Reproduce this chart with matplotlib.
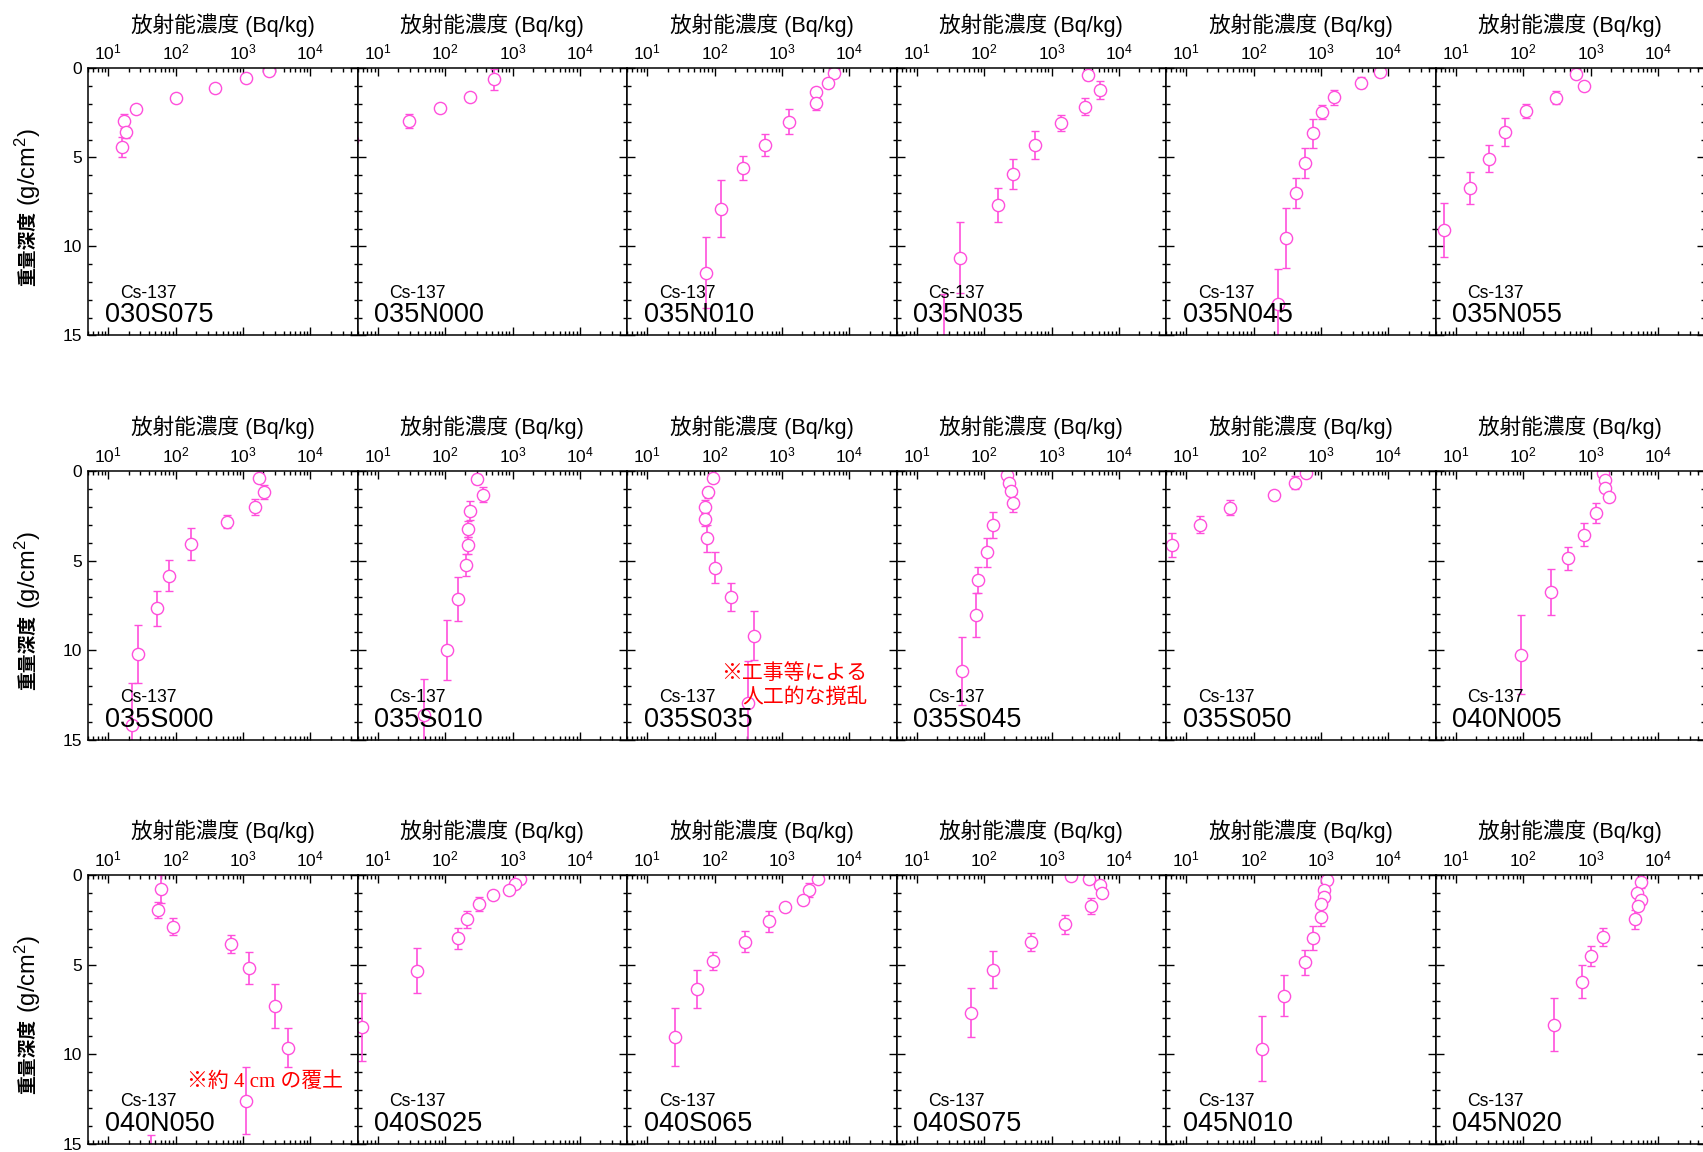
import matplotlib
matplotlib.use("Agg")
import matplotlib.pyplot as plt
from matplotlib.ticker import LogLocator, MultipleLocator, NullFormatter

plt.rcParams['font.family'] = ['Liberation Sans', 'Noto Sans CJK JP', 'DejaVu Sans']
plt.rcParams['mathtext.default'] = 'regular'

# ---------------- data ----------------
stations = ["030S075", "035N000", "035N010", "035N035", "035N045", "035N055",
            "035S000", "035S010", "035S035", "035S045", "035S050", "040N005",
            "040N050", "040S025", "040S065", "040S075", "045N010", "045N020"]

conc_030S075 = [2440, 1100, 380, 100, 25.5, 17, 18.5, 16]
depth_030S075 = [0.13, 0.53, 1.09, 1.69, 2.29, 2.96, 3.6, 4.41]
err_030S075 = [0.1, 0.1, 0.1, 0.1, 0.15, 0.37, 0.3, 0.55]

conc_035N000 = [530, 235, 84, 29.5, 4.2]
depth_035N000 = [0.62, 1.59, 2.25, 2.96, 4.03]
err_035N000 = [0.58, 0.1, 0.1, 0.37, 0.1]

conc_035N010 = [5940, 4890, 3160, 3160, 1265, 567, 260, 124, 75.5]
depth_035N010 = [0.28, 0.81, 1.31, 1.93, 3.0, 4.31, 5.59, 7.88, 11.48]
err_035N010 = [0.1, 0.1, 0.2, 0.42, 0.69, 0.62, 0.66, 1.62, 2.0]

conc_035N035 = [3510, 5175, 3160, 1370, 567, 269, 159, 44, 25.7]
depth_035N035 = [0.375, 1.22, 2.16, 3.06, 4.31, 5.94, 7.69, 10.65, 15.5]
err_035N035 = [0.3, 0.49, 0.47, 0.44, 0.81, 0.83, 0.94, 2.0, 2.84]

conc_035N045 = [7470, 3975, 1573, 1028, 755, 580, 426, 299, 227]
depth_035N045 = [0.22, 0.81, 1.63, 2.46, 3.66, 5.34, 6.99, 9.54, 13.22]
err_035N045 = [0.1, 0.3, 0.42, 0.39, 0.82, 0.84, 0.84, 1.69, 1.97]

conc_035N055 = [615, 811, 308, 109, 54, 31, 16, 6.7]
depth_035N055 = [0.32, 0.98, 1.65, 2.4, 3.56, 5.08, 6.71, 9.09]
err_035N055 = [0.1, 0.1, 0.38, 0.4, 0.79, 0.75, 0.89, 1.52]

conc_035S000 = [1754, 2040, 1486, 582, 171, 80, 53, 27.7, 22.8]
depth_035S000 = [0.37, 1.15, 1.99, 2.83, 4.07, 5.84, 7.66, 10.2, 14.16]
err_035S000 = [0.2, 0.39, 0.45, 0.37, 0.9, 0.86, 0.96, 1.61, 2.36]

conc_035S010 = [300, 364, 234, 216, 222, 204, 157, 105, 48.6]
depth_035S010 = [0.45, 1.32, 2.23, 3.23, 4.14, 5.24, 7.12, 9.98, 13.6]
err_035S010 = [0.3, 0.4, 0.53, 0.45, 0.48, 0.63, 1.23, 1.65, 2.0]

conc_035S035 = [95.5, 79, 71, 72.8, 77.4, 101.6, 173, 378, 310]
depth_035S035 = [0.37, 1.19, 1.99, 2.7, 3.75, 5.39, 7.04, 9.18, 12.92]
err_035S035 = [0.2, 0.3, 0.35, 0.35, 0.74, 0.88, 0.79, 1.37, 2.34]

conc_035S045 = [217, 231, 248, 267, 137, 109, 81, 76, 47.7]
depth_035S045 = [0.22, 0.65, 1.1, 1.8, 3.01, 4.54, 6.08, 8.01, 11.13]
err_035S045 = [0.1, 0.1, 0.2, 0.5, 0.7, 0.81, 0.72, 1.23, 1.9]

conc_035S050 = [606, 413, 201, 44, 15.8, 6.2]
depth_035S050 = [0.09, 0.65, 1.34, 2.06, 2.99, 4.13]
err_035S050 = [0.1, 0.35, 0.1, 0.42, 0.49, 0.65]

conc_040N005 = [1545, 1620, 1620, 1893, 1214, 789, 466, 255, 92]
depth_040N005 = [0.09, 0.5, 0.95, 1.47, 2.32, 3.55, 4.87, 6.75, 10.24]
err_040N005 = [0.1, 0.1, 0.1, 0.1, 0.56, 0.63, 0.65, 1.26, 2.2]

conc_040N050 = [61, 54, 90, 659, 1211, 2937, 4700, 1100, 43]
depth_040N050 = [0.78, 1.95, 2.88, 3.84, 5.2, 7.3, 9.62, 12.59, 16.5]
err_040N050 = [0.77, 0.44, 0.48, 0.49, 0.88, 1.24, 1.1, 1.88, 2.0]

conc_040S025 = [1298, 1070, 893, 507, 313, 209, 156, 37.7, 5.9]
depth_040S025 = [0.22, 0.52, 0.84, 1.13, 1.63, 2.47, 3.53, 5.33, 8.48]
err_040S025 = [0.1, 0.1, 0.1, 0.1, 0.4, 0.48, 0.58, 1.27, 1.9]

conc_040S065 = [3437, 2490, 2067, 1099, 645, 284, 95.6, 54, 26]
depth_040S065 = [0.2, 0.85, 1.42, 1.77, 2.58, 3.73, 4.8, 6.37, 9.04]
err_040S065 = [0.1, 0.4, 0.1, 0.1, 0.6, 0.58, 0.5, 1.06, 1.6]

conc_040S075 = [1967, 3656, 5170, 5640, 3797, 1593, 491, 134, 63.5]
depth_040S075 = [0.04, 0.2, 0.57, 1.03, 1.73, 2.75, 3.76, 5.28, 7.69]
err_040S075 = [0.1, 0.1, 0.1, 0.1, 0.47, 0.53, 0.5, 1.02, 1.37]

conc_045N010 = [1214, 1091, 1091, 1003, 1003, 770, 578, 281, 131]
depth_045N010 = [0.3, 0.81, 1.22, 1.64, 2.34, 3.52, 4.87, 6.72, 9.7]
err_045N010 = [0.1, 0.1, 0.1, 0.1, 0.5, 0.67, 0.68, 1.17, 1.81]

conc_045N020 = [5705, 4820, 5705, 5060, 4540, 1525, 1027, 752, 284]
depth_045N020 = [0.41, 1.0, 1.37, 1.73, 2.47, 3.45, 4.5, 5.94, 8.34]
err_045N020 = [0.3, 0.1, 0.1, 0.1, 0.52, 0.51, 0.55, 0.92, 1.46]

series = {
    "030S075": (conc_030S075, depth_030S075, err_030S075),
    "035N000": (conc_035N000, depth_035N000, err_035N000),
    "035N010": (conc_035N010, depth_035N010, err_035N010),
    "035N035": (conc_035N035, depth_035N035, err_035N035),
    "035N045": (conc_035N045, depth_035N045, err_035N045),
    "035N055": (conc_035N055, depth_035N055, err_035N055),
    "035S000": (conc_035S000, depth_035S000, err_035S000),
    "035S010": (conc_035S010, depth_035S010, err_035S010),
    "035S035": (conc_035S035, depth_035S035, err_035S035),
    "035S045": (conc_035S045, depth_035S045, err_035S045),
    "035S050": (conc_035S050, depth_035S050, err_035S050),
    "040N005": (conc_040N005, depth_040N005, err_040N005),
    "040N050": (conc_040N050, depth_040N050, err_040N050),
    "040S025": (conc_040S025, depth_040S025, err_040S025),
    "040S065": (conc_040S065, depth_040S065, err_040S065),
    "040S075": (conc_040S075, depth_040S075, err_040S075),
    "045N010": (conc_045N010, depth_045N010, err_045N010),
    "045N020": (conc_045N020, depth_045N020, err_045N020),
}

nuclide = "Cs-137"
xlabel_text = "放射能濃度 (Bq/kg)"
ylabel_kanji = "重量深度"
ylabel_unit = "(g/cm$^2$)"
note_035S035 = ["※工事等による", "人工的な撹乱"]
note_040N050 = "※約 4 cm の覆土"

# ---------------- layout ----------------
W, H = 1703, 1152
fig = plt.figure(figsize=(W / 100, H / 100), dpi=100)
col_left0 = 88.0
col_w = 269.5
row_tops = [68.3, 471.0, 875.0]
row_h = [267.0, 269.0, 269.0]

color = '#ff4fdc'

axes = []
for idx, name in enumerate(stations):
    r, c = divmod(idx, 6)
    left = col_left0 + col_w * c
    top = row_tops[r]
    h = row_h[r]
    ax = fig.add_axes([left / W, 1 - (top + h) / H, col_w / W, h / H])
    axes.append(ax)
    x, y, e = series[name]
    ax.errorbar(x, y, yerr=e, fmt='o', ms=8.8, mfc='white', mec=color, mew=1.0,
                ecolor=color, elinewidth=1.2, capsize=3.2, capthick=1.2)
    ax.set_xscale('log')
    ax.set_xlim(5, 5e4)
    ax.set_ylim(15, 0)
    ax.xaxis.set_major_locator(LogLocator(base=10, numticks=10))
    ax.xaxis.set_minor_locator(LogLocator(base=10, subs=range(2, 10), numticks=20))
    ax.xaxis.set_minor_formatter(NullFormatter())
    ax.yaxis.set_major_locator(MultipleLocator(5))
    ax.yaxis.set_minor_locator(MultipleLocator(1))
    ax.tick_params(which='both', direction='in', top=True, bottom=True,
                   left=True, right=True, labeltop=True, labelbottom=False,
                   labelleft=(c == 0), width=1.0, colors='black')
    ax.tick_params(which='major', length=6, labelsize=12.5, pad=4)
    ax.tick_params(which='minor', length=3)
    for sp in ax.spines.values():
        sp.set_linewidth(1.1)
    ax.xaxis.set_label_position('top')
    ax.set_xlabel(xlabel_text, fontsize=15.6, labelpad=8)
    ax.text(0.223, 0.157, nuclide, transform=ax.transAxes, ha='center',
            va='center', fontsize=12.7)
    ax.text(0.063, 0.048, name, transform=ax.transAxes, ha='left',
            va='baseline', fontsize=19.5)

# annotations
ax = axes[stations.index("035S035")]
ax.text(0.892, 0.249, note_035S035[0], transform=ax.transAxes, ha='right',
        va='center', fontsize=15, color='red', family=['Noto Sans CJK JP'])
ax.text(0.892, 0.160, note_035S035[1], transform=ax.transAxes, ha='right',
        va='center', fontsize=15, color='red', family=['Noto Sans CJK JP'])

ax = axes[stations.index("040N050")]
ax.text(0.657, 0.232, note_040N050, transform=ax.transAxes, ha='center',
        va='center', fontsize=15, color='red',
        family=['Liberation Serif', 'Noto Sans CJK JP'])

# y labels (left column)
for r in range(3):
    top = row_tops[r]
    h = row_h[r]
    xc = 28 / W
    fig.text(xc, 1 - (top + h / 2 + 47) / H, ylabel_kanji, rotation=90,
             ha='center', va='center', fontsize=13.5, fontweight='bold',
             family=['Noto Sans CJK JP'])
    fig.text(xc, 1 - (top + h / 2 - 35) / H, ylabel_unit, rotation=90,
             ha='center', va='center', fontsize=17)

fig.savefig("out.png", dpi=100)
